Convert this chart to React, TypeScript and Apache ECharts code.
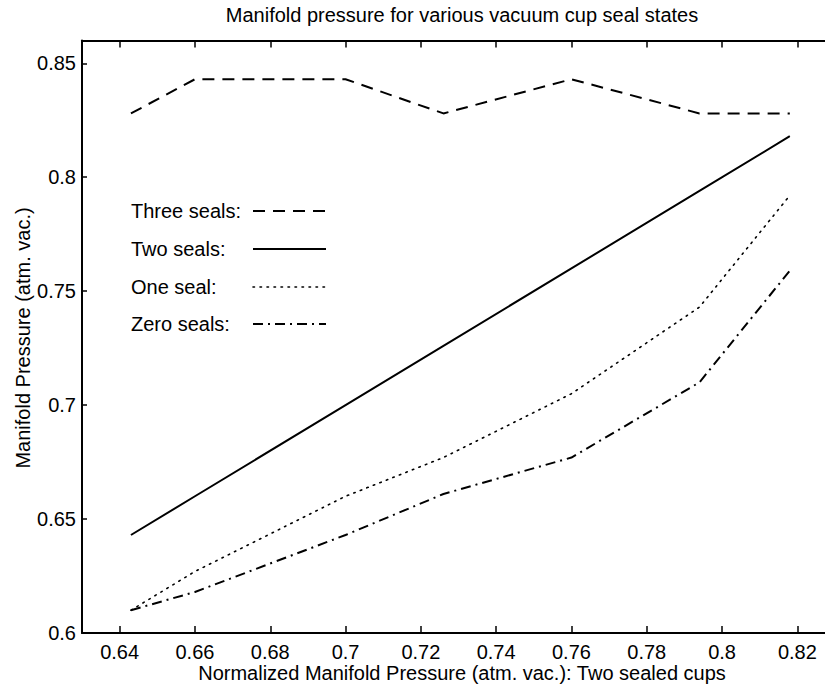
import React, { useEffect, useRef } from "react";
import * as echarts from "echarts";

const xVals = [0.643, 0.66, 0.7, 0.726, 0.76, 0.794, 0.818];
const threeSeals = [0.828, 0.843, 0.843, 0.828, 0.843, 0.828, 0.828];
const twoSeals = [0.643, 0.66, 0.7, 0.726, 0.76, 0.794, 0.818];
const oneSeal = [0.61, 0.627, 0.66, 0.677, 0.705, 0.743, 0.792];
const zeroSeals = [0.61, 0.618, 0.643, 0.661, 0.677, 0.71, 0.759];

const xTicks = [0.64, 0.66, 0.68, 0.7, 0.72, 0.74, 0.76, 0.78, 0.8, 0.82];
const yTicks = [0.6, 0.65, 0.7, 0.75, 0.8, 0.85];

const seriesNames = ["Three seals:", "Two seals:", "One seal:", "Zero seals:"];
const titleText = "Manifold pressure for various vacuum cup seal states";
const xName = "Normalized Manifold Pressure (atm. vac.): Two sealed cups";
const yName = "Manifold Pressure (atm. vac.)";

const FONT = "'Liberation Sans', Arial, Helvetica, sans-serif";
const DASHES: any[] = [[12, 8], "solid", [1.5, 5.5], [10, 5, 2, 5]];

const fmt = (v: number) => String(parseFloat(Number(v).toFixed(3)));

export default function App() {
  const ref = useRef<HTMLDivElement>(null);
  useEffect(() => {
    if (!ref.current) return;
    const chart = echarts.init(ref.current, undefined, { renderer: "svg" });
    const seriesData = [threeSeals, twoSeals, oneSeal, zeroSeals];
    const legendY = [211, 249, 287, 324];
    const graphics: any[] = [
      {
        type: "text",
        x: 462,
        y: 15,
        style: { text: titleText, font: `20px ${FONT}`, fill: "#000", align: "center", verticalAlign: "middle" },
      },
      {
        type: "text",
        x: 462,
        y: 673,
        style: { text: xName, font: `20px ${FONT}`, fill: "#000", align: "center", verticalAlign: "middle" },
      },
      {
        type: "text",
        x: 23,
        y: 338,
        rotation: Math.PI / 2,
        style: { text: yName, font: `20px ${FONT}`, fill: "#000", align: "center", verticalAlign: "middle" },
      },
    ];
    seriesNames.forEach((n, i) => {
      graphics.push({
        type: "text",
        x: 131,
        y: legendY[i],
        style: { text: n, font: `20px ${FONT}`, fill: "#000", align: "left", verticalAlign: "middle" },
      });
      graphics.push({
        type: "line",
        shape: { x1: 253, y1: legendY[i], x2: 326, y2: legendY[i] },
        style: {
          stroke: "#000",
          lineWidth: i === 2 ? 1.6 : 2,
          lineDash: DASHES[i] === "solid" ? null : DASHES[i],
          lineCap: i === 2 ? "round" : "butt",
        },
      });
    });

    const option: any = {
      animation: false,
      backgroundColor: "#fff",
      grid: { left: 82, right: 25, top: 40.5, bottom: 51, containLabel: false },
      xAxis: [
        {
          type: "value",
          min: 0.63,
          max: 0.83,
          position: "bottom",
          axisLine: { show: true, lineStyle: { color: "#000", width: 2 } },
          axisTick: { show: true, inside: true, length: 7, customValues: xTicks, lineStyle: { color: "#000", width: 1.5 } },
          axisLabel: {
            show: true,
            customValues: xTicks,
            formatter: (v: number) => fmt(v),
            color: "#000",
            fontSize: 20,
            fontFamily: FONT,
            margin: 9,
          },
          splitLine: { show: false },
        },
        {
          type: "value",
          min: 0.63,
          max: 0.83,
          position: "top",
          axisLine: { show: true, lineStyle: { color: "#000", width: 2 } },
          axisTick: { show: true, inside: true, length: 7, customValues: xTicks, lineStyle: { color: "#000", width: 1.5 } },
          axisLabel: { show: false },
          splitLine: { show: false },
        },
      ],
      yAxis: [
        {
          type: "value",
          min: 0.6,
          max: 0.86,
          position: "left",
          axisLine: { show: true, lineStyle: { color: "#000", width: 2 } },
          axisTick: { show: true, inside: true, length: 5, customValues: yTicks, lineStyle: { color: "#000", width: 1.5 } },
          axisLabel: {
            show: true,
            customValues: yTicks,
            formatter: (v: number) => fmt(v),
            color: "#000",
            fontSize: 20,
            fontFamily: FONT,
            margin: 6,
          },
          splitLine: { show: false },
        },
      ],
      graphic: graphics,
      series: seriesData.map((arr, i) => ({
        type: "line",
        name: seriesNames[i],
        xAxisIndex: 0,
        yAxisIndex: 0,
        data: xVals.map((x, j) => [x, arr[j]]),
        showSymbol: false,
        symbol: "none",
        lineStyle: {
          color: "#000",
          width: i === 2 ? 1.6 : 2,
          type: DASHES[i],
          cap: i === 2 ? "round" : "butt",
        },
      })),
    };
    chart.setOption(option);
    return () => chart.dispose();
  }, []);
  return (
    <div style={{ position: "fixed", left: 0, top: 0, width: 825, height: 684, overflow: "hidden", background: "#fff" }}>
      <div ref={ref} style={{ width: 860, height: 684 }} />
    </div>
  );
}
